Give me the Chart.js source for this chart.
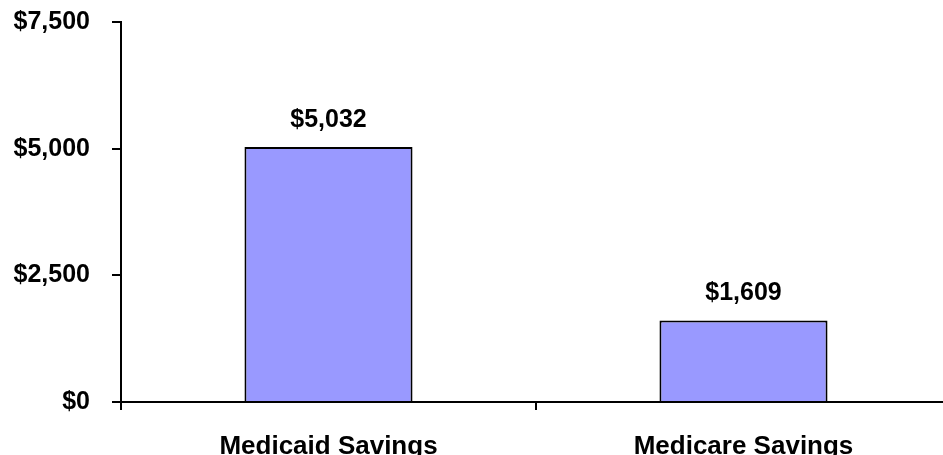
<!DOCTYPE html>
<html>
<head>
<meta charset="utf-8">
<script src="https://cdn.jsdelivr.net/npm/chart.js@4/dist/chart.umd.min.js"></script>
<style>
  html, body { margin: 0; padding: 0; background: #fff; overflow: hidden; }
  #wrap { width: 943px; height: 455px; overflow: hidden; }
  canvas { display: block; }
</style>
</head>
<body>
<div id="wrap"><canvas id="c" width="951" height="455"></canvas></div>
<script>
const categories = ["Medicaid Savings", "Medicare Savings"];
const savings = [5032, 1609];
const yTicks = [0, 2500, 5000, 7500];

const fmt = v => "$" + v.toLocaleString("en-US");
const FONT = "'Liberation Sans', Arial, sans-serif";

const valueLabels = {
  id: "valueLabels",
  afterDatasetsDraw(chart) {
    const ctx = chart.ctx;
    const meta = chart.getDatasetMeta(0);
    ctx.save();
    ctx.font = "bold 25px " + FONT;
    ctx.fillStyle = "#000";
    ctx.textAlign = "center";
    ctx.textBaseline = "alphabetic";
    meta.data.forEach((bar, i) => {
      ctx.fillText(fmt(chart.data.datasets[0].data[i]), bar.x, bar.y - 20);
    });
    ctx.restore();
  }
};

new Chart(document.getElementById("c"), {
  type: "bar",
  data: {
    labels: categories,
    datasets: [{
      data: savings,
      backgroundColor: "#9999FF",
      borderColor: "#000",
      borderWidth: 2,
      barPercentage: 0.405,
      categoryPercentage: 1.0
    }]
  },
  options: {
    responsive: false,
    animation: false,
    events: [],
    layout: { padding: { top: 22, right: 0, left: 0, bottom: 0 } },
    plugins: { legend: { display: false }, tooltip: { enabled: false } },
    scales: {
      x: {
        offset: true,
        grid: { offset: true, drawOnChartArea: false, drawTicks: true, tickLength: 8, color: "#000", lineWidth: 2 },
        border: { display: true, color: "#000", width: 2 },
        ticks: { color: "#000", font: { family: FONT, size: 26, weight: "bold" }, padding: 21, maxRotation: 0 },
        afterFit(s) { s.height = 53; s.paddingLeft = 0; s.paddingRight = 0; }
      },
      y: {
        min: 0, max: 7500,
        afterBuildTicks(s) { s.ticks = yTicks.map(v => ({ value: v })); },
        grid: { drawOnChartArea: false, drawTicks: true, tickLength: 9, color: "#000", lineWidth: 2 },
        border: { display: true, color: "#000", width: 2 },
        ticks: { color: "#000", font: { family: FONT, size: 25, weight: "bold" }, padding: 22, callback: v => fmt(v) },
        afterFit(s) { s.width = 121; s.paddingTop = 0; s.paddingBottom = 0; }
      }
    }
  },
  plugins: [valueLabels]
});
</script>
</body>
</html>
